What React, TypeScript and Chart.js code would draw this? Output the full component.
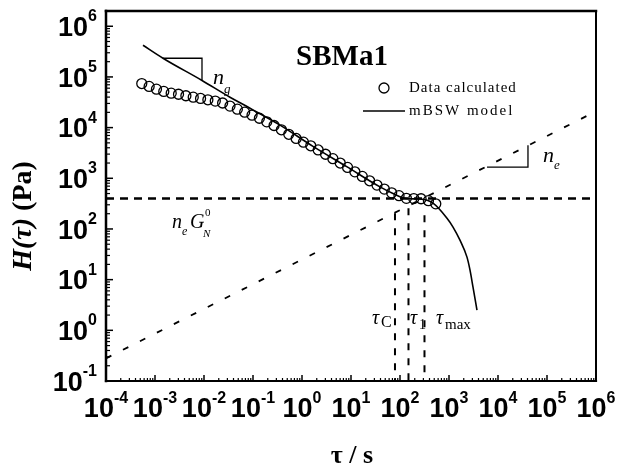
import React, { useEffect, useRef } from 'react';
import { Chart, registerables } from 'chart.js';

Chart.register(...registerables);

// ---- Data calculated (circles) ----
const DATA_TAU = [
  5.37e-4, 7.59e-4, 1.07e-3, 1.51e-3, 2.14e-3, 3.02e-3, 4.27e-3, 6.03e-3, 8.51e-3, 1.2e-2,
  1.7e-2, 2.4e-2, 3.39e-2, 4.79e-2, 6.76e-2, 9.55e-2, 0.135, 0.191, 0.269, 0.38,
  0.537, 0.759, 1.07, 1.51, 2.14, 3.02, 4.27, 6.03, 8.51, 12.0,
  17.0, 24.0, 33.9, 47.9, 67.6, 95.5, 135, 191, 269, 380, 537,
];
const DATA_H = [
  74100, 64900, 57400, 51800, 47900, 45500, 42500, 39900, 37600, 35400,
  33400, 30600, 26600, 23100, 20200, 17600, 15300, 13000, 11000, 9060,
  7380, 6110, 5160, 4380, 3620, 2980, 2440, 2000, 1640, 1340,
  1090, 893, 735, 612, 516, 454, 402, 398, 395, 362, 313,
];

// ---- mBSW model (solid line) ----
const MODEL_TAU = [
  5.69e-4, 1.455e-3, 9.12e-3, 3.39e-2, 8.69e-2, 0.356, 1.675, 8.17, 39.1, 71.9,
  137, 256, 471, 910, 1208, 1675, 2328, 2685, 3090, 3724,
];
const MODEL_H = [
  421700, 233900, 85110, 39810, 24150, 11220, 4266, 1698, 676, 501,
  398, 389, 323, 163, 109, 60.1, 27.8, 15.4, 7.11, 2.5,
];

// ---- reference lines ----
const PLATEAU_TAU = [1e-4, 1e6];
const PLATEAU_H = [400, 400]; // n_e G_N^0
const DIAG_TAU = [1e-4, 1e6];
const DIAG_H = [0.28, 2.1e4]; // slope n_e
const TAU_MARKS = [79, 149, 316]; // tau_C, tau_1, tau_max
const TAU_MARK_TOPS = [204, 257, 186];
const TAU_MARK_BOTTOM = 0.1;

// slope triangles
const NG_TRI_TAU = [1.455e-3, 9.1e-3, 9.1e-3];
const NG_TRI_H = [2.339e5, 2.339e5, 8.6e4];
const NE_TRI_TAU = [5970, 40900, 40900];
const NE_TRI_H = [1656, 1656, 4498];

// ---- axes ----
const X_MIN = 1e-4;
const X_MAX = 1e6;
const Y_MIN = 0.1;
const Y_MAX = 2e6;
const X_TICK_EXPONENTS = ['-4', '-3', '-2', '-1', '0', '1', '2', '3', '4', '5', '6'];
const Y_TICK_EXPONENTS = ['-1', '0', '1', '2', '3', '4', '5', '6'];
const MINOR_MULTIPLIERS = [2, 3, 4, 5, 6, 7, 8, 9];

const SANS = '"Liberation Sans", Arial, sans-serif';
const SERIF = '"Liberation Serif", "Times New Roman", serif';

function pts(xs: number[], ys: number[]) {
  return xs.map((x, i) => ({ x, y: ys[i] }));
}

function seg(ctx: any, x1: number, y1: number, x2: number, y2: number, w: number) {
  ctx.lineWidth = w;
  ctx.beginPath();
  ctx.moveTo(x1, y1);
  ctx.lineTo(x2, y2);
  ctx.stroke();
}

function txt(ctx: any, s: string, x: number, y: number, font: string, align: string = 'left', base: string = 'alphabetic') {
  ctx.font = font;
  ctx.textAlign = align;
  ctx.textBaseline = base;
  ctx.fillText(s, x, y);
  return ctx.measureText(s).width;
}

const decorPlugin = {
  id: 'decor',
  afterDraw(chart: any) {
    const { ctx, chartArea: a, scales } = chart;
    const xs = scales.x;
    const ys = scales.y;
    ctx.save();
    ctx.strokeStyle = '#000';
    ctx.fillStyle = '#000';
    ctx.setLineDash([]);
    ctx.lineCap = 'square';

    // frame
    seg(ctx, a.left, a.top, a.left, a.bottom, 2.5);
    seg(ctx, a.left, a.bottom, a.right, a.bottom, 2.2);
    seg(ctx, a.left, a.top, a.right, a.top, 2.5);
    seg(ctx, a.right, a.top, a.right, a.bottom, 2);

    ctx.lineCap = 'butt';
    // x ticks (inward)
    X_TICK_EXPONENTS.forEach((e) => {
      const base = Math.pow(10, Number(e));
      const px = xs.getPixelForValue(base);
      seg(ctx, px, a.bottom, px, a.bottom - 6, 1.5);
      MINOR_MULTIPLIERS.forEach((m) => {
        const v = m * base;
        if (v < X_MAX) {
          const p = xs.getPixelForValue(v);
          seg(ctx, p, a.bottom, p, a.bottom - 3, 1.2);
        }
      });
    });
    // y ticks (inward)
    Y_TICK_EXPONENTS.forEach((e) => {
      const base = Math.pow(10, Number(e));
      const py = ys.getPixelForValue(base);
      seg(ctx, a.left, py, a.left + 7, py, 1.5);
      MINOR_MULTIPLIERS.forEach((m) => {
        const v = m * base;
        if (v < Y_MAX) {
          const p = ys.getPixelForValue(v);
          seg(ctx, a.left, p, a.left + 4, p, 1.2);
        }
      });
    });

    // tick labels
    const BIG = `bold 27px ${SANS}`;
    const SUP = `bold 16px ${SANS}`;
    X_TICK_EXPONENTS.forEach((e) => {
      const px = xs.getPixelForValue(Math.pow(10, Number(e)));
      ctx.font = BIG;
      const w1 = ctx.measureText('10').width;
      ctx.font = SUP;
      const w2 = ctx.measureText(e).width;
      const x0 = px - (w1 + w2) / 2;
      txt(ctx, '10', x0, a.bottom + 36, BIG);
      txt(ctx, e, x0 + w1, a.bottom + 22, SUP);
    });
    Y_TICK_EXPONENTS.forEach((e) => {
      const py = ys.getPixelForValue(Math.pow(10, Number(e)));
      ctx.font = BIG;
      const w1 = ctx.measureText('10').width;
      ctx.font = SUP;
      const w2 = ctx.measureText(e).width;
      const right = a.left - 9;
      txt(ctx, e, right - w2, py - 5, SUP);
      txt(ctx, '10', right - w2 - w1, py + 9.7, BIG);
    });

    // axis titles
    ctx.save();
    ctx.translate(31, 216);
    ctx.rotate(-Math.PI / 2);
    const f1 = `italic bold 28px ${SERIF}`;
    const f2 = `bold 28px ${SERIF}`;
    ctx.font = f1;
    const t1 = ctx.measureText('H(τ)').width;
    ctx.font = f2;
    const t2 = ctx.measureText(' (Pa)').width;
    const start = -(t1 + t2) / 2;
    txt(ctx, 'H(τ)', start, 0, f1);
    txt(ctx, ' (Pa)', start + t1, 0, f2);
    ctx.restore();

    txt(ctx, 'τ / s', 352, 463, `bold 26px ${SERIF}`, 'center');

    // title
    txt(ctx, 'SBMa1', 342, 65, `bold 29px ${SERIF}`, 'center');

    // slope labels
    txt(ctx, 'n', 213, 84, `italic 22px ${SERIF}`);
    txt(ctx, 'g', 224, 93, `italic 13px ${SERIF}`);
    txt(ctx, 'n', 543, 162, `italic 22px ${SERIF}`);
    txt(ctx, 'e', 554, 169, `italic 13px ${SERIF}`);

    // n_e G_N^0
    txt(ctx, 'n', 172, 228, `italic 20px ${SERIF}`);
    txt(ctx, 'e', 182, 235, `italic 12px ${SERIF}`);
    txt(ctx, 'G', 190, 228, `italic 20px ${SERIF}`);
    txt(ctx, 'N', 203, 237, `italic 11px ${SERIF}`);
    txt(ctx, '0', 205, 216, `11px ${SERIF}`);

    // tau labels
    txt(ctx, 'τ', 372, 324, `italic 20px ${SERIF}`);
    txt(ctx, 'C', 381, 327, `16px ${SERIF}`);
    txt(ctx, 'τ', 410, 324, `italic 20px ${SERIF}`);
    txt(ctx, '1', 419, 329, `14px ${SERIF}`);
    txt(ctx, 'τ', 436, 324, `italic 20px ${SERIF}`);
    txt(ctx, 'max', 445, 329, `15px ${SERIF}`);

    // legend
    ctx.lineWidth = 1.3;
    ctx.beginPath();
    ctx.arc(384, 88, 5, 0, Math.PI * 2);
    ctx.stroke();
    seg(ctx, 363, 111, 405, 111, 1.5);
    (ctx as any).letterSpacing = '1px';
    txt(ctx, 'Data calculated', 409, 88, `15px ${SERIF}`, 'left', 'middle');
    (ctx as any).letterSpacing = '2px';
    txt(ctx, 'mBSW model', 409, 111, `15px ${SERIF}`, 'left', 'middle');
    (ctx as any).letterSpacing = '0px';

    ctx.restore();
  },
};

export default function App() {
  const ref = useRef<HTMLCanvasElement>(null);

  useEffect(() => {
    const canvas = ref.current as HTMLCanvasElement;
    const lineDs = (data: any[], width: number, dash: number[]) => ({
      data,
      showLine: true,
      borderColor: '#000',
      borderWidth: width,
      borderDash: dash,
      pointRadius: 0,
      fill: false,
      tension: 0,
    });

    const datasets: any[] = [
      {
        label: 'Data calculated',
        data: pts(DATA_TAU, DATA_H),
        showLine: false,
        pointStyle: 'circle',
        pointRadius: 5,
        pointBorderWidth: 1.3,
        pointBorderColor: '#000',
        pointBackgroundColor: 'rgba(0,0,0,0)',
      },
      {
        label: 'mBSW model',
        data: pts(MODEL_TAU, MODEL_H),
        showLine: true,
        borderColor: '#000',
        borderWidth: 1.6,
        pointRadius: 0,
        cubicInterpolationMode: 'monotone',
        fill: false,
      },
      lineDs(pts(PLATEAU_TAU, PLATEAU_H), 2.4, [8, 6]),
      lineDs(pts(DIAG_TAU, DIAG_H), 1.8, [6, 13]),
      ...TAU_MARKS.map((t, i) => lineDs(pts([t, t], [TAU_MARK_TOPS[i], TAU_MARK_BOTTOM]), 2, [7, 8])),
      lineDs(pts(NG_TRI_TAU, NG_TRI_H), 1.3, []),
      lineDs(pts(NE_TRI_TAU, NE_TRI_H), 1.3, []),
    ];

    const chart = new Chart(canvas, {
      type: 'scatter',
      data: { datasets },
      options: {
        responsive: false,
        animation: false,
        devicePixelRatio: 1,
        layout: { padding: { left: 0, right: 25, top: 11, bottom: 0 } },
        plugins: { legend: { display: false }, tooltip: { enabled: false } },
        scales: {
          x: {
            type: 'logarithmic',
            min: X_MIN,
            max: X_MAX,
            ticks: { display: false },
            grid: { display: false },
            border: { display: false },
            afterFit: (s: any) => {
              s.height = 91;
            },
          },
          y: {
            type: 'logarithmic',
            min: Y_MIN,
            max: Y_MAX,
            ticks: { display: false },
            grid: { display: false },
            border: { display: false },
            afterFit: (s: any) => {
              s.width = 106;
            },
          },
        },
      } as any,
      plugins: [decorPlugin],
    });
    return () => chart.destroy();
  }, []);

  return (
    <div style={{ position: 'fixed', left: 0, top: 0, width: 621, height: 472, background: '#fff' }}>
      <canvas ref={ref} width={621} height={472} style={{ display: 'block', width: 621, height: 472 }} />
    </div>
  );
}
